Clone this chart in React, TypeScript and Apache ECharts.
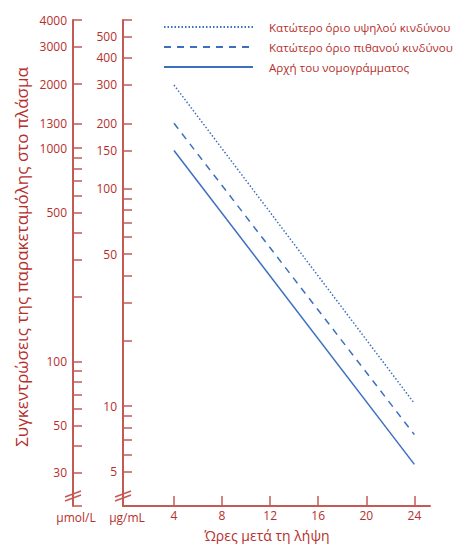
import React, { useEffect, useRef } from "react";
import * as echarts from "echarts";

const hours = [4, 24];
const highRisk = [300, 10.3];
const probableRisk = [200, 7.4];
const nomogramStart = [150, 5.4];

const seriesNames = [
  "Κατώτερο όριο υψηλού κινδύνου",
  "Κατώτερο όριο πιθανού κινδύνου",
  "Αρχή του νομογράμματος",
];

const xTickValues = [4, 8, 12, 16, 20, 24];
const ugLabelValues = [500, 400, 300, 200, 150, 100, 50, 10, 5];
const ugTickValues = [597, 500, 400, 300, 200, 150, 100, 90, 80, 70, 60, 50, 40, 30, 20, 10, 9, 8, 7, 6, 5];
const umolLabelValues = [4000, 3000, 2000, 1300, 1000, 500, 100, 50, 30];
const umolTickValues = [4000, 3000, 2000, 1300, 1000, 900, 800, 700, 600, 500, 400, 300, 200, 100, 90, 80, 70, 60, 50, 40, 30, 20.95];

const UG_MIN = 3.475;
const UG_MAX = 597.1;
const UMOL_MIN = 20.92;
const UMOL_MAX = 4000;

const RED = "#b52f2c";
const AXIS_RED = "#c45a55";
const BLUE = "#3d6fc0";
const FONT = "Open Sans";

export default function App() {
  const ref = useRef<HTMLDivElement>(null);
  useEffect(() => {
    if (!ref.current) return;
    const chart = echarts.init(ref.current, undefined, { renderer: "svg" });
    const mk = (vals: number[]) => hours.map((h, i) => [h, vals[i]]);
    const fmt = (v: number) => String(v);
    const breakMark = (x: number, y: number) => [
      { type: "line", shape: { x1: x - 8, y1: y + 3, x2: x + 8, y2: y - 3 }, style: { stroke: AXIS_RED, lineWidth: 1.5 } },
      { type: "line", shape: { x1: x - 8, y1: y + 7, x2: x + 8, y2: y + 1 }, style: { stroke: AXIS_RED, lineWidth: 1.5 } },
    ];
    chart.setOption({
      animation: false,
      grid: { left: 123, top: 20, right: 37, bottom: 38, containLabel: false },
      legend: {
        orient: "vertical",
        left: 158,
        top: 16,
        itemWidth: 89,
        itemHeight: 14,
        itemGap: 8,
        data: seriesNames,
        itemStyle: { color: "transparent", borderColor: "transparent", borderWidth: 0, opacity: 0 },
        textStyle: { color: RED, fontSize: 11.6, fontFamily: FONT, padding: [0, 0, 0, 11] },
      },
      xAxis: {
        type: "value",
        min: -0.24,
        max: 25.3,
        axisLine: { onZero: false, lineStyle: { color: AXIS_RED, width: 2 } },
        axisTick: { inside: true, length: 10, customValues: xTickValues, lineStyle: { color: AXIS_RED, width: 1.5 } },
        axisLabel: { customValues: xTickValues, formatter: fmt, color: RED, fontSize: 12, lineHeight: 13, fontFamily: FONT, margin: 3 },
        splitLine: { show: false },
      },
      yAxis: [
        {
          type: "log",
          min: UG_MIN,
          max: UG_MAX,
          position: "left",
          axisLine: { show: true, onZero: false, lineStyle: { color: AXIS_RED, width: 2 } },
          axisTick: { show: true, inside: true, length: 9, customValues: ugTickValues, lineStyle: { color: AXIS_RED, width: 1.5 } },
          axisLabel: { customValues: ugLabelValues, formatter: fmt, color: RED, fontSize: 12, fontFamily: FONT, margin: 6 },
          splitLine: { show: false },
        },
        {
          type: "log",
          min: UMOL_MIN,
          max: UMOL_MAX,
          position: "left",
          offset: 50,
          axisLine: { show: true, onZero: false, lineStyle: { color: AXIS_RED, width: 2 } },
          axisTick: { show: true, inside: true, length: 9, customValues: umolTickValues, lineStyle: { color: AXIS_RED, width: 1.5 } },
          axisLabel: { customValues: umolLabelValues, formatter: fmt, color: RED, fontSize: 12, fontFamily: FONT, margin: 6 },
          splitLine: { show: false },
        },
      ],
      series: [
        {
          name: seriesNames[0],
          type: "line",
          yAxisIndex: 0,
          data: mk(highRisk),
          symbol: "none",
          lineStyle: { color: BLUE, width: 1.5, type: [1.5, 2] },
          itemStyle: { color: BLUE },
        },
        {
          name: seriesNames[1],
          type: "line",
          yAxisIndex: 0,
          data: mk(probableRisk),
          symbol: "none",
          lineStyle: { color: BLUE, width: 1.5, type: [7, 6] },
          itemStyle: { color: BLUE },
        },
        {
          name: seriesNames[2],
          type: "line",
          yAxisIndex: 0,
          data: mk(nomogramStart),
          symbol: "none",
          lineStyle: { color: BLUE, width: 1.5 },
          itemStyle: { color: BLUE },
        },
      ],
      graphic: [
        {
          type: "text",
          x: 21,
          y: 257,
          rotation: Math.PI / 2,
          style: {
            text: "Συγκεντρώσεις της παρακεταμόλης στο πλάσμα",
            fill: RED,
            font: `17px "${FONT}"`,
            textAlign: "center",
            textVerticalAlign: "middle",
          },
        },
        {
          type: "text",
          x: 267,
          y: 535,
          style: {
            text: "Ώρες μετά τη λήψη",
            fill: RED,
            font: `14px "${FONT}"`,
            lineHeight: 14,
            textAlign: "center",
            textVerticalAlign: "middle",
          },
        },
        {
          type: "text",
          x: 76,
          y: 517,
          style: { text: "μmol/L", fill: RED, font: `12px "${FONT}"`, textAlign: "center", textVerticalAlign: "middle" },
        },
        {
          type: "text",
          x: 127,
          y: 517,
          style: { text: "μg/mL", fill: RED, font: `12px "${FONT}"`, textAlign: "center", textVerticalAlign: "middle" },
        },
        ...breakMark(73, 494),
        ...breakMark(123, 494),
      ],
    });
    return () => chart.dispose();
  }, []);
  return <div ref={ref} style={{ position: "absolute", left: 0, top: 0, width: 467, height: 544 }} />;
}
